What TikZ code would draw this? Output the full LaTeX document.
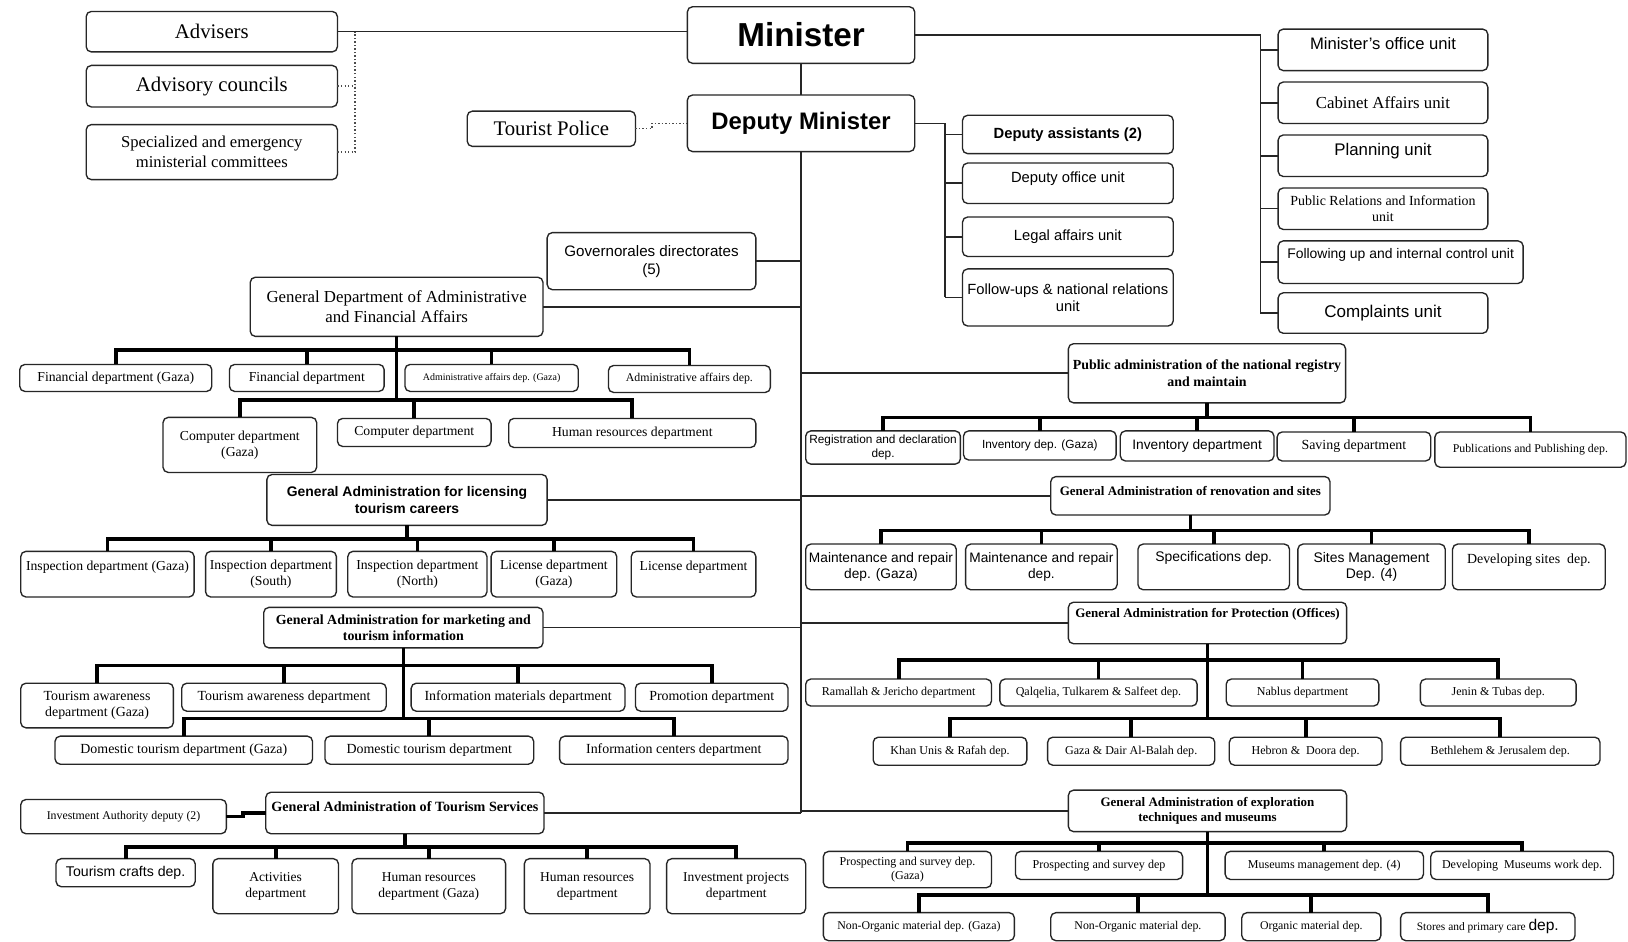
\documentclass[tikz,border=0pt]{standalone}
\usepackage{fontspec}
\setmainfont{Liberation Serif}
\setsansfont{Liberation Sans}
\newcommand{\fz}[1]{\fontsize{#1pt}{\fpeval{1.18*#1}pt}\selectfont}
\newcommand{\obox}[7][]{\node[box,#1,minimum width={(#5-#3)*0.5pt},minimum height={(#6-#4)*0.5pt}] (#2) at ({(#3+#5)/2},{(#4+#6)/2}) {#7};}
\newcommand{\busrow}[4]{%
  \draw[bus] (#2.north) -- (#2.north |- #1) -- (#3.north |- #1) -- (#3.north);
  \foreach \c in {#4} {\draw[bus] (\c.north) -- (\c.north |- #1);}}
\tikzset{
  box/.style={draw=black!85, rounded corners=2.5pt, line width=0.65pt, align=center, inner sep=0.5pt, outer sep=0pt},
  sf/.style={font=\sffamily\fz{#1}},
  rm/.style={font=\rmfamily\fz{#1}},
  bsf/.style={font=\sffamily\bfseries\fz{#1}},
  brm/.style={font=\rmfamily\bfseries\fz{#1}},
  tup/.style={text depth=#1},
  ln/.style={line width=0.75pt, black!85},
  bus/.style={line width=1.8pt, black},
  dotln/.style={line width=0.7pt, densely dotted, black!70},
}
\begin{document}
\begin{tikzpicture}[x=0.5pt,y=-0.5pt]
\fill[white] (0,0) rectangle (1568,907);
\useasboundingbox (0,0) rectangle (1568,907);

% ---- top
\obox[rm=10]{adv}{83}{11}{325}{50}{Advisers}
\obox[rm=10]{ac}{83}{63}{325}{103}{Advisory councils}
\obox[rm=8]{sc}{83}{120}{325}{173}{Specialized and emergency\\ministerial committees}
\obox[bsf=16]{min}{662}{6.5}{881}{61}{Minister}
\obox[bsf=11.5]{dep}{662}{91.5}{881}{146}{Deputy Minister}
\obox[rm=10]{tp}{450}{107}{612}{141}{Tourist Police}

% ---- minister units
\obox[sf=8,tup=6pt]{u1}{1231}{28}{1433}{68}{Minister's office unit}
\obox[rm=8.1]{u2}{1231}{79}{1433}{119}{Cabinet Affairs unit}
\obox[sf=8.1,tup=6pt]{u3}{1231}{130}{1433}{170}{Planning unit}
\obox[rm=6.7]{u4}{1231}{181}{1433}{221}{Public Relations and Information\\unit}
\obox[sf=6.7,tup=8pt]{u5}{1231}{232}{1467}{273}{Following up and internal control unit}
\obox[sf=8.2]{u6}{1231}{282}{1433}{321}{Complaints unit}

% ---- deputy units
\obox[bsf=7.1]{d1}{927}{111}{1130}{148}{Deputy assistants (2)}
\obox[sf=7.1,tup=6pt]{d2}{927}{157}{1130}{196}{Deputy office unit}
\obox[sf=7.1]{d3}{927}{209}{1130}{247}{Legal affairs unit}
\obox[sf=7.1]{d4}{927}{259}{1130}{314}{Follow-ups \& national relations\\unit}

% ---- left side
\obox[sf=7.3]{gov}{527}{224}{728}{279}{Governorales directorates\\(5)}
\obox[rm=8.1]{gd}{241}{267}{523}{324}{General Department of Administrative\\and Financial Affairs}
\obox[rm=6.6]{f1}{19}{351}{204}{377}{Financial department (Gaza)}
\obox[rm=6.6]{f2}{221}{351}{370}{377}{Financial department}
\obox[rm=4.8]{f3}{390}{351}{557}{377}{Administrative affairs dep. (Gaza)}
\obox[rm=5.7]{f4}{586}{352}{742}{378}{Administrative affairs dep.}
\obox[rm=6.6]{g1}{157}{402}{305}{455}{Computer department\\(Gaza)}
\obox[rm=6.6]{g2}{325}{403}{473}{430}{Computer department}
\obox[rm=6.6]{g3}{490}{403}{728}{431}{Human resources department}

\obox[bsf=6.7]{lic}{257}{457}{527}{506}{General Administration for licensing\\tourism careers}
\obox[rm=6.6,tup=8pt]{i1}{20}{531}{187}{575}{Inspection department (Gaza)}
\obox[rm=6.6]{i2}{198}{531}{324}{575}{Inspection department\\(South)}
\obox[rm=6.6]{i3}{335}{531}{469}{575}{Inspection department\\(North)}
\obox[rm=6.6]{i4}{473}{531}{594}{575}{License department\\(Gaza)}
\obox[rm=6.6,tup=8pt]{i5}{608}{531}{728}{575}{License department}

\obox[brm=6.7]{mk}{254}{585}{523}{624}{General Administration for marketing and\\tourism information}
\obox[rm=6.7]{m1}{20}{658}{167}{701}{Tourism awareness\\department (Gaza)}
\obox[rm=6.7]{m2}{175}{658}{372}{685}{Tourism awareness department}
\obox[rm=6.7]{m3}{396}{658}{602}{685}{Information materials department}
\obox[rm=6.7]{m4}{612}{658}{759}{685}{Promotion department}
\obox[rm=6.7]{n1}{53}{709}{301}{736}{Domestic tourism department (Gaza)}
\obox[rm=6.7]{n2}{313}{709}{514}{736}{Domestic tourism department}
\obox[rm=6.7]{n3}{539}{709}{759}{736}{Information centers department}

\obox[brm=6.8,tup=6pt]{ts}{256}{763}{524}{803}{General Administration of Tourism Services}
\obox[rm=5.7]{inv}{20}{770}{218}{803}{Investment Authority deputy (2)}
\obox[sf=6.8]{t1}{54}{827}{188}{854}{Tourism crafts dep.}
\obox[rm=6.5]{t2}{205}{827}{326}{880}{Activities\\department}
\obox[rm=6.5]{t3}{339}{827}{487}{880}{Human resources\\department (Gaza)}
\obox[rm=6.5]{t4}{505}{827}{626}{880}{Human resources\\department}
\obox[rm=6.5]{t5}{642}{827}{776}{880}{Investment projects\\department}

% ---- right side
\obox[brm=6.7]{pa}{1029}{331}{1296}{388}{Public administration of the national registry\\and maintain}
\obox[sf=5.7]{r1}{776}{415}{925}{447}{Registration and declaration\\dep.}
\obox[sf=5.7]{r2}{928}{415}{1075}{443}{Inventory dep. (Gaza)}
\obox[sf=6.6]{r3}{1079}{415}{1227}{444}{Inventory department}
\obox[rm=6.7]{r4}{1230}{416}{1378}{444}{Saving department}
\obox[rm=5.7]{r5}{1382}{416}{1566}{450}{Publications and Publishing dep.}

\obox[brm=6.25,tup=5pt]{rn}{1012}{459}{1281}{496}{General Administration of renovation and sites}
\obox[sf=6.6]{s1}{776}{524}{921}{568}{Maintenance and repair\\dep. (Gaza)}
\obox[sf=6.6]{s2}{930}{524}{1076}{568}{Maintenance and repair\\dep.}
\obox[sf=6.7,tup=10pt]{s3}{1096}{524}{1242}{568}{Specifications dep.}
\obox[sf=6.7]{s4}{1250}{524}{1392}{568}{Sites Management\\Dep. (4)}
\obox[rm=6.7,tup=8pt]{s5}{1399}{524}{1546}{568}{Developing sites\ \ dep.}

\obox[brm=6.25,tup=10pt]{pr}{1029}{580}{1297}{620}{General Administration for Protection (Offices)}
\obox[rm=5.8]{p1}{776}{654}{955}{680}{Ramallah \& Jericho department}
\obox[rm=5.8]{p2}{963}{654}{1153}{680}{Qalqelia, Tulkarem \& Salfeet dep.}
\obox[rm=5.8]{p3}{1181}{654}{1328}{680}{Nablus department}
\obox[rm=5.8]{p4}{1368}{654}{1518}{680}{Jenin \& Tubas dep.}
\obox[rm=5.8]{q1}{841}{710}{989}{737}{Khan Unis \& Rafah dep.}
\obox[rm=5.8]{q2}{1009}{710}{1170}{737}{Gaza \& Dair Al-Balah dep.}
\obox[rm=5.8]{q3}{1184}{710}{1331}{737}{Hebron \&\ \ Doora dep.}
\obox[rm=5.8]{q4}{1349}{710}{1541}{737}{Bethlehem \& Jerusalem dep.}

\obox[brm=6.25]{ex}{1029}{761}{1297}{801}{General Administration of exploration\\techniques and museums}
\obox[rm=5.8]{e1}{793}{820}{955}{855}{Prospecting and survey dep.\\(Gaza)}
\obox[rm=5.8]{e2}{978}{820}{1139}{847}{Prospecting and survey dep}
\obox[rm=5.8]{e3}{1180}{820}{1371}{847}{Museums management dep. (4)}
\obox[rm=5.8]{e4}{1378}{820}{1554}{847}{Developing\ \ Museums work dep.}
\obox[rm=5.7]{o1}{793}{879}{977}{906}{Non-Organic material dep. (Gaza)}
\obox[rm=5.7]{o2}{1012}{879}{1180}{906}{Non-Organic material dep.}
\obox[rm=5.7]{o3}{1196}{879}{1330}{906}{Organic material dep.}
\obox[rm=5.5]{o4}{1349}{879}{1517}{906}{Stores and primary care {\sffamily\fz{7.5}dep.}}

% ---- main connectors
\draw[ln] (min.south) -- (dep.north);
\draw[ln] (dep.south) -- (dep.south |- ts.east);
\foreach \n in {gov,gd,lic,mk,ts} {\draw[ln] (\n.east) -- (\n.east -| dep.south);}
\foreach \n in {pa,rn,pr,ex} {\draw[ln] (\n.west) -- (\n.west -| dep.south);}

\draw[ln] (adv.east) -- (adv.east -| min.west);
\coordinate (br) at (342,0);
\draw[dotln] (ac.east) -- (ac.east -| br);
\draw[dotln] (sc.east) -| (br |- adv.east);
\draw[dotln] (tp.east) -- ([xshift=8pt]tp.east) |- (dep.west);

\coordinate (ru) at (1214,0);
\draw[ln] (min.east) -| (ru |- u6.west);
\foreach \n in {u1,u2,u3,u4,u5,u6} {\draw[ln] (\n.west) -- (\n.west -| ru);}

\coordinate (dr) at (910,0);
\draw[ln] (dep.east) -| (dr |- d4.west);
\foreach \n in {d1,d2,d3,d4} {\draw[ln] (\n.west) -- (\n.west -| dr);}

% ---- trees
\coordinate (bA) at (0,337);
\coordinate (bB) at (0,385);
\draw[bus] (gd.south) -- (gd.south |- bB);
\busrow{bA}{f1}{f4}{f2,f3}
\busrow{bB}{g1}{g3}{g2}

\coordinate (bC) at (0,519);
\draw[bus] (lic.south) -- (lic.south |- bC);
\busrow{bC}{i1}{i5}{i2,i3,i4}

\coordinate (bD) at (0,641);
\coordinate (bE) at (0,692);
\draw[bus] (mk.south) -- (mk.south |- bE);
\busrow{bD}{m1}{m4}{m2,m3}
\busrow{bE}{n1}{n3}{n2}

\coordinate (bF) at (0,816);
\draw[bus] (ts.south) -- (ts.south |- bF);
\busrow{bF}{t1}{t5}{t2,t3,t4}
\draw[bus] (inv.east) -- ([xshift=8pt]inv.east) |- (ts.west);

\coordinate (bG) at (0,402);
\draw[bus] (pa.south) -- (pa.south |- bG);
\busrow{bG}{r1}{r5}{r2,r3,r4}

\coordinate (bH) at (0,511);
\draw[bus] (rn.south) -- (rn.south |- bH);
\busrow{bH}{s1}{s5}{s2,s3,s4}

\coordinate (bI) at (0,636);
\coordinate (bJ) at (0,692);
\draw[bus] (pr.south) -- (pr.south |- bJ);
\busrow{bI}{p1}{p4}{p2,p3}
\busrow{bJ}{q1}{q4}{q2,q3}

\coordinate (bK) at (0,812);
\coordinate (bL) at (0,862);
\draw[bus] (ex.south) -- (ex.south |- bL);
\busrow{bK}{e1}{e4}{e2,e3}
\busrow{bL}{o1}{o4}{o2,o3}
\end{tikzpicture}
\end{document}
